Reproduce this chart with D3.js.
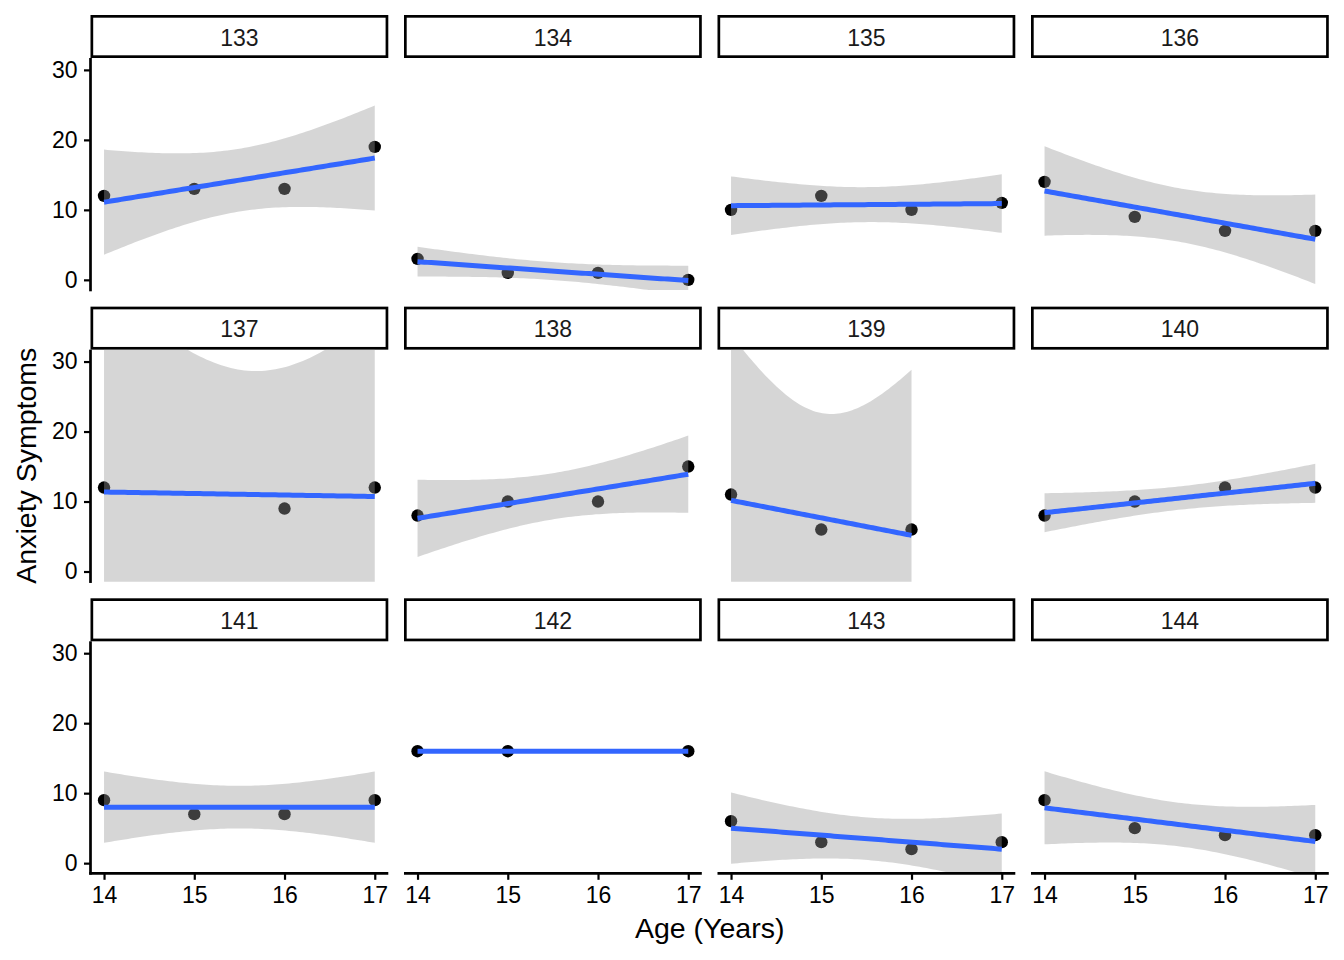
<!DOCTYPE html>
<html>
<head>
<meta charset="utf-8">
<script src="https://cdn.jsdelivr.net/npm/d3@7"></script>
<style>
  body { margin: 0; background: #fff; }
  svg { display: block; font-family: "Liberation Sans", Arial, Helvetica, sans-serif; }
</style>
</head>
<body>
<svg width="1344" height="960"></svg>
<script>
// one entry per participant facet
const facetLabels = ['133', '134', '135', '136', '137', '138', '139', '140', '141', '142', '143', '144']
const ages = [
  [14, 15, 16, 17], [14, 15, 16, 17], [14, 15, 16, 17], [14, 15, 16, 17],
  [14, 16, 17],     [14, 15, 16, 17], [14, 15, 16],     [14, 15, 16, 17],
  [14, 15, 16, 17], [14, 15, 17],     [14, 15, 16, 17], [14, 15, 16, 17]
]
const anxiety = [
  [12, 13, 13, 19], [3, 1, 1, 0],   [10, 12, 10, 11], [14, 9, 7, 7],
  [12, 9, 12],      [8, 10, 10, 15], [11, 6, 6],      [8, 10, 12, 12],
  [9, 7, 7, 9],     [16, 16, 16],   [6, 3, 2, 3],     [9, 5, 4, 4]
]
const xTicks = [14, 15, 16, 17]
const yTicks = [0, 10, 20, 30]

// t quantiles (0.975) by residual df, used for the 95% band
const tQuant = {1: 12.7062, 2: 4.302653}

const svg = d3.select('svg')
const nCol = 4
const panelLeft = 90.5, colPitch = 313.5, panelW = 297.8
const rowTop0 = 15, rowPitch = 291.65, stripH = 43, panelH = 232
const nRow = Math.ceil(facetLabels.length / nCol)
const tickFont = 23

const xScale = d3.scaleLinear().domain([13.85, 17.15]).range([0, panelW])
const yScale = d3.scaleLinear().domain([-1.45, 31.7]).range([panelH, 0])

const fitLm = (xs, ys) => {
  const n = xs.length
  const mx = d3.mean(xs), my = d3.mean(ys)
  const sxx = d3.sum(xs, x => (x - mx) ** 2)
  const sxy = d3.sum(xs, (x, i) => (x - mx) * (ys[i] - my))
  const b = sxy / sxx, a = my - b * mx
  const sse = d3.sum(xs, (x, i) => (ys[i] - (a + b * x)) ** 2)
  const s = Math.sqrt(sse / (n - 2))
  const t = tQuant[n - 2]
  const [x0, x1] = d3.extent(xs)
  return d3.range(80).map(k => {
    const x = x0 + (x1 - x0) * k / 79
    const fit = a + b * x
    const se = s * Math.sqrt(1 / n + (x - mx) ** 2 / sxx)
    return {x, fit, lo: fit - t * se, hi: fit + t * se}
  })
}

const defs = svg.append('defs')

facetLabels.forEach((label, i) => {
  const col = i % nCol, row = Math.floor(i / nCol)
  const rowTop = rowTop0 + row * rowPitch
  const left = panelLeft + col * colPitch
  const top = rowTop + stripH

  // strip
  svg.append('rect')
    .attr('x', left + 1.35).attr('y', rowTop + 1.35)
    .attr('width', panelW - 2.7).attr('height', stripH - 2.7)
    .attr('fill', 'white').attr('stroke', 'black').attr('stroke-width', 2.7)
  svg.append('text')
    .attr('x', left + panelW / 2).attr('y', rowTop + stripH / 2 + 1)
    .attr('dy', '0.35em').attr('text-anchor', 'middle')
    .attr('font-size', tickFont).attr('fill', '#1a1a1a')
    .text(label)

  defs.append('clipPath').attr('id', 'clip' + i)
    .append('rect').attr('width', panelW).attr('height', panelH)

  const g = svg.append('g').attr('transform', `translate(${left},${top})`)
  const plot = g.append('g').attr('clip-path', `url(#clip${i})`)

  const pts = ages[i].map((a, k) => ({age: a, val: anxiety[i][k]}))
  const band = fitLm(ages[i], anxiety[i])

  plot.selectAll('circle').data(pts).enter().append('circle')
    .attr('cx', d => xScale(d.age))
    .attr('cy', d => yScale(d.val))
    .attr('r', 6.2)
    .attr('fill', 'black')

  plot.append('path').datum(band)
    .attr('d', d3.area().x(d => xScale(d.x)).y0(d => yScale(d.lo)).y1(d => yScale(d.hi)))
    .attr('fill', '#999999').attr('fill-opacity', 0.4)

  plot.append('path').datum(band)
    .attr('d', d3.line().x(d => xScale(d.x)).y(d => yScale(d.fit)))
    .attr('fill', 'none').attr('stroke', '#3366FF').attr('stroke-width', 5)

  if (col === 0) {
    const yAxis = d3.axisLeft(yScale).tickValues(yTicks).tickFormat(d3.format('d'))
      .tickSize(6.5).tickPadding(6.5)
    const ya = g.append('g').call(yAxis)
    ya.attr('font-family', null).attr('font-size', null)
    ya.select('.domain').remove()
    ya.selectAll('.tick line').attr('stroke', 'black').attr('stroke-width', 2.2)
    ya.selectAll('.tick text').attr('font-size', tickFont).attr('fill', 'black')
    g.append('line').attr('x1', 0).attr('x2', 0).attr('y1', 0).attr('y2', panelH + 1.3)
      .attr('stroke', 'black').attr('stroke-width', 2.7)
  }
  if (row === nRow - 1) {
    const xAxis = d3.axisBottom(xScale).tickValues(xTicks).tickFormat(d3.format('d'))
      .tickSize(6.5).tickPadding(6)
    const xa = g.append('g').attr('transform', `translate(0,${panelH})`).call(xAxis)
    xa.attr('font-family', null).attr('font-size', null)
    xa.select('.domain').remove()
    xa.selectAll('.tick line').attr('stroke', 'black').attr('stroke-width', 2.2)
    xa.selectAll('.tick text').attr('font-size', tickFont).attr('fill', 'black')
      .attr('dy', '0.76em')
    g.append('line').attr('x1', col === 0 ? -1.3 : 0).attr('x2', panelW)
      .attr('y1', panelH).attr('y2', panelH)
      .attr('stroke', 'black').attr('stroke-width', 2.7)
  }
})

// axis titles
const gridLeft = panelLeft, gridRight = panelLeft + (nCol - 1) * colPitch + panelW
const gridTop = rowTop0 + stripH, gridBottom = rowTop0 + (nRow - 1) * rowPitch + stripH + panelH

svg.append('text')
  .attr('x', (gridLeft + gridRight) / 2).attr('y', 938)
  .attr('text-anchor', 'middle').attr('font-size', 28.5).attr('fill', 'black')
  .text('Age (Years)')

svg.append('text')
  .attr('transform', `translate(36,${(gridTop + gridBottom) / 2}) rotate(-90)`)
  .attr('text-anchor', 'middle').attr('font-size', 28.5).attr('fill', 'black')
  .text('Anxiety Symptoms')
</script>
</body>
</html>
